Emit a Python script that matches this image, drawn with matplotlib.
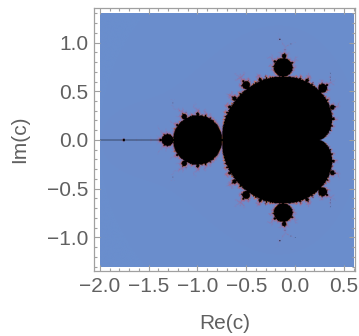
import numpy as np
import matplotlib
matplotlib.use("Agg")
import matplotlib.pyplot as plt
from matplotlib.colors import LinearSegmentedColormap
from matplotlib.ticker import MultipleLocator

# ---- data / parameters ----
re_range = [-2.0, 0.6]
im_range = [-1.3, 1.3]
grid_n = [521, 521]          # samples along re, im (odd so the real axis is sampled)
max_iter = 250
x_ticks = [-2.0, -1.5, -1.0, -0.5, 0.0, 0.5]
y_ticks = [-1.0, -0.5, 0.0, 0.5, 1.0]
x_label = "Re(c)"
y_label = "Im(c)"
color_pos = [0.0, 0.5, 0.66, 0.8, 0.92, 1.0]
color_vals = ["#6a8ecd", "#6c8ccb", "#8b76b0", "#b45a6e", "#d8733c", "#f0b050"]
inside_color = "#000000"

# ---- escape-time computation ----
re = np.linspace(re_range[0], re_range[1], grid_n[0])
im = np.linspace(im_range[0], im_range[1], grid_n[1])
C = re[None, :] + 1j * im[:, None]
Z = np.zeros_like(C)
counts = np.zeros(C.shape, dtype=float)
alive = np.ones(C.shape, dtype=bool)
for k in range(max_iter):
    Z[alive] = Z[alive] ** 2 + C[alive]
    esc = alive & (np.abs(Z) > 2.0)
    counts[esc] = k + 1
    alive &= ~esc
val = np.log(np.maximum(counts, 1)) / np.log(max_iter)
val = np.clip(val, 0, 1)

cmap = LinearSegmentedColormap.from_list("mset", list(zip(color_pos, color_vals)))
rgb = cmap(val)
rgb[alive] = matplotlib.colors.to_rgba(inside_color)

# ---- figure ----
plt.rcParams["font.family"] = ["Liberation Sans", "DejaVu Sans"]
fig = plt.figure(figsize=(3.59, 3.36), dpi=100)
ax = fig.add_axes([0.2618, 0.1935, 0.727, 0.7827])
ax.imshow(rgb, origin="lower", extent=[re_range[0], re_range[1], im_range[0], im_range[1]],
          interpolation="antialiased", aspect="auto")
ax.set_xlim(-2.06, 0.615)
ax.set_ylim(-1.345, 1.355)

frame_col = "#a0a0a0"
label_col = "#606060"
for s in ax.spines.values():
    s.set_color(frame_col)
    s.set_linewidth(0.9)
ax.set_xticks(x_ticks)
ax.set_yticks(y_ticks)
ax.set_xticklabels([("%.1f" % t).replace("-", "\u2212") for t in x_ticks])
ax.set_yticklabels([("%.1f" % t).replace("-", "\u2212") for t in y_ticks])
ax.xaxis.set_minor_locator(MultipleLocator(0.1))
ax.yaxis.set_minor_locator(MultipleLocator(0.1))
ax.tick_params(which="both", direction="in", top=True, right=True, color=frame_col,
               labelcolor=label_col, labelsize=15, width=0.8)
ax.tick_params(which="major", length=4.5, pad=4)
ax.tick_params(which="minor", length=2.5)
ax.set_xlabel(x_label, fontsize=15, color=label_col, labelpad=13)
ax.set_ylabel(y_label, fontsize=15, color=label_col, labelpad=13)

fig.savefig("out.png", dpi=100)
